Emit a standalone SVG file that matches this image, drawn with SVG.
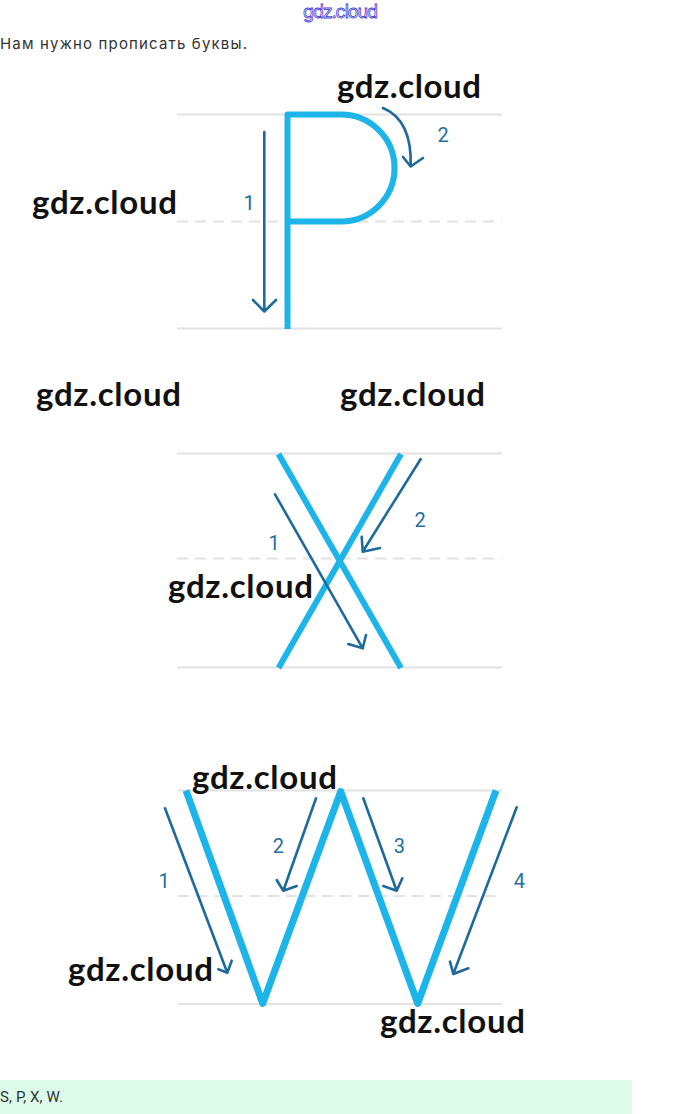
<svg xmlns="http://www.w3.org/2000/svg" width="680" height="1114" viewBox="0 0 680 1114">
<defs>
<style>
.guide{stroke:#e2e2e2;stroke-width:2;fill:none}
.dash{stroke:#e2e2e2;stroke-width:2;stroke-dasharray:11 7;fill:none}
.letter{stroke:#1db5e9;stroke-width:6;fill:none;stroke-linecap:butt;stroke-linejoin:round}
.arrow{stroke:#1d6a9b;stroke-width:2.6;fill:none;stroke-linecap:round;stroke-linejoin:round}
.num{font-family:Roboto,"Liberation Sans",sans-serif;font-size:20px;fill:#236f9f;text-anchor:middle}
.wm{font-family:Lato,"Liberation Sans",sans-serif;font-weight:bold;font-size:33px;fill:#111}
</style>
</defs>
<rect width="680" height="1114" fill="#fff"/>
<text x="303" y="18" font-family="Inter,'Liberation Sans',sans-serif" font-size="18" fill="#fff" stroke="#3b3bd4" stroke-width="0.8" textLength="75">gdz.cloud</text>
<text x="0" y="49" font-family="Inter,'Liberation Sans',sans-serif" font-size="15" fill="#333" textLength="247">Нам нужно прописать буквы.</text>

<g id="guides">
<line class="guide" x1="177" y1="114.5" x2="502" y2="114.5"/>
<line class="dash" x1="177" y1="221.5" x2="502" y2="221.5"/>
<line class="guide" x1="177" y1="328.5" x2="502" y2="328.5"/>
<line class="guide" x1="177" y1="453.5" x2="502" y2="453.5"/>
<line class="dash" x1="177" y1="558.5" x2="502" y2="558.5"/>
<line class="guide" x1="177" y1="667.5" x2="502" y2="667.5"/>
<line class="guide" x1="178" y1="790.5" x2="502" y2="790.5"/>
<line class="dash" x1="178" y1="896" x2="502" y2="896"/>
<line class="guide" x1="178" y1="1004" x2="502" y2="1004"/>
</g>

<g id="letter-P">
<path class="letter" d="M287.5,329 V114.5 H341 A53.5,53.5 0 0 1 341,221.5 H287.5"/>
</g>
<g id="letter-X">
<line class="letter" x1="278.5" y1="454" x2="401" y2="668"/>
<line class="letter" x1="401" y1="454" x2="278.5" y2="668"/>
</g>
<g id="letter-W">
<polyline class="letter" style="stroke-width:7" points="186,790.5 262.7,1003.5 340.7,791.5 417.7,1003.5 496,790.5"/>
</g>

<g id="connectors">
<path class="arrow" d="M264.3,132 V311.5 M253,300 L264.3,311.5 L276,300"/>
<path class="arrow" d="M383,108 Q412,120 410.7,166 M403,157 L410.7,166.5 L423,158"/>
<path class="arrow" d="M275,494.3 L362.7,648.3 M348.3,644 L362.7,648.3 L366,635"/>
<path class="arrow" d="M420.7,459 L362.7,551.7 M361.7,536.7 L362.7,551.7 L380,548"/>
<path class="arrow" d="M165,808.3 L227.3,972.7 M218.3,969.3 L227.3,972.7 L231.7,960.7"/>
<path class="arrow" d="M316,798.3 L283.3,890.7 M276.7,880 L283.3,890.7 L296.7,886"/>
<path class="arrow" d="M363.3,798.3 L396.7,890.7 M383.3,886 L396.7,890.7 L402.3,878.3"/>
<path class="arrow" d="M516.7,807.3 L453.3,974 M450,961.7 L453.3,974 L468.3,968.3"/>
</g>

<g id="labels">
<text class="num" x="249" y="210">1</text>
<text class="num" x="443" y="142">2</text>
<text class="num" x="274" y="550">1</text>
<text class="num" x="420" y="527">2</text>
<text class="num" x="164" y="888">1</text>
<text class="num" x="278.3" y="853">2</text>
<text class="num" x="399.3" y="853">3</text>
<text class="num" x="519.3" y="888">4</text>
</g>

<g id="watermarks">
<text class="wm" x="337" y="98" textLength="144">gdz.cloud</text>
<text class="wm" x="32" y="214" textLength="145">gdz.cloud</text>
<text class="wm" x="36" y="406" textLength="145">gdz.cloud</text>
<text class="wm" x="340" y="406" textLength="145">gdz.cloud</text>
<text class="wm" x="168" y="598" textLength="145">gdz.cloud</text>
<text class="wm" x="192" y="789" textLength="145">gdz.cloud</text>
<text class="wm" x="68" y="981" textLength="145">gdz.cloud</text>
<text class="wm" x="380" y="1033" textLength="145">gdz.cloud</text>
</g>

<g id="answer">
<rect x="0" y="1080" width="632" height="34" fill="#dcfce9"/>
<text x="0" y="1102" font-family="Roboto,'Liberation Sans',sans-serif" font-size="15" fill="#333" textLength="63">S, P, X, W.</text>
</g>
</svg>
